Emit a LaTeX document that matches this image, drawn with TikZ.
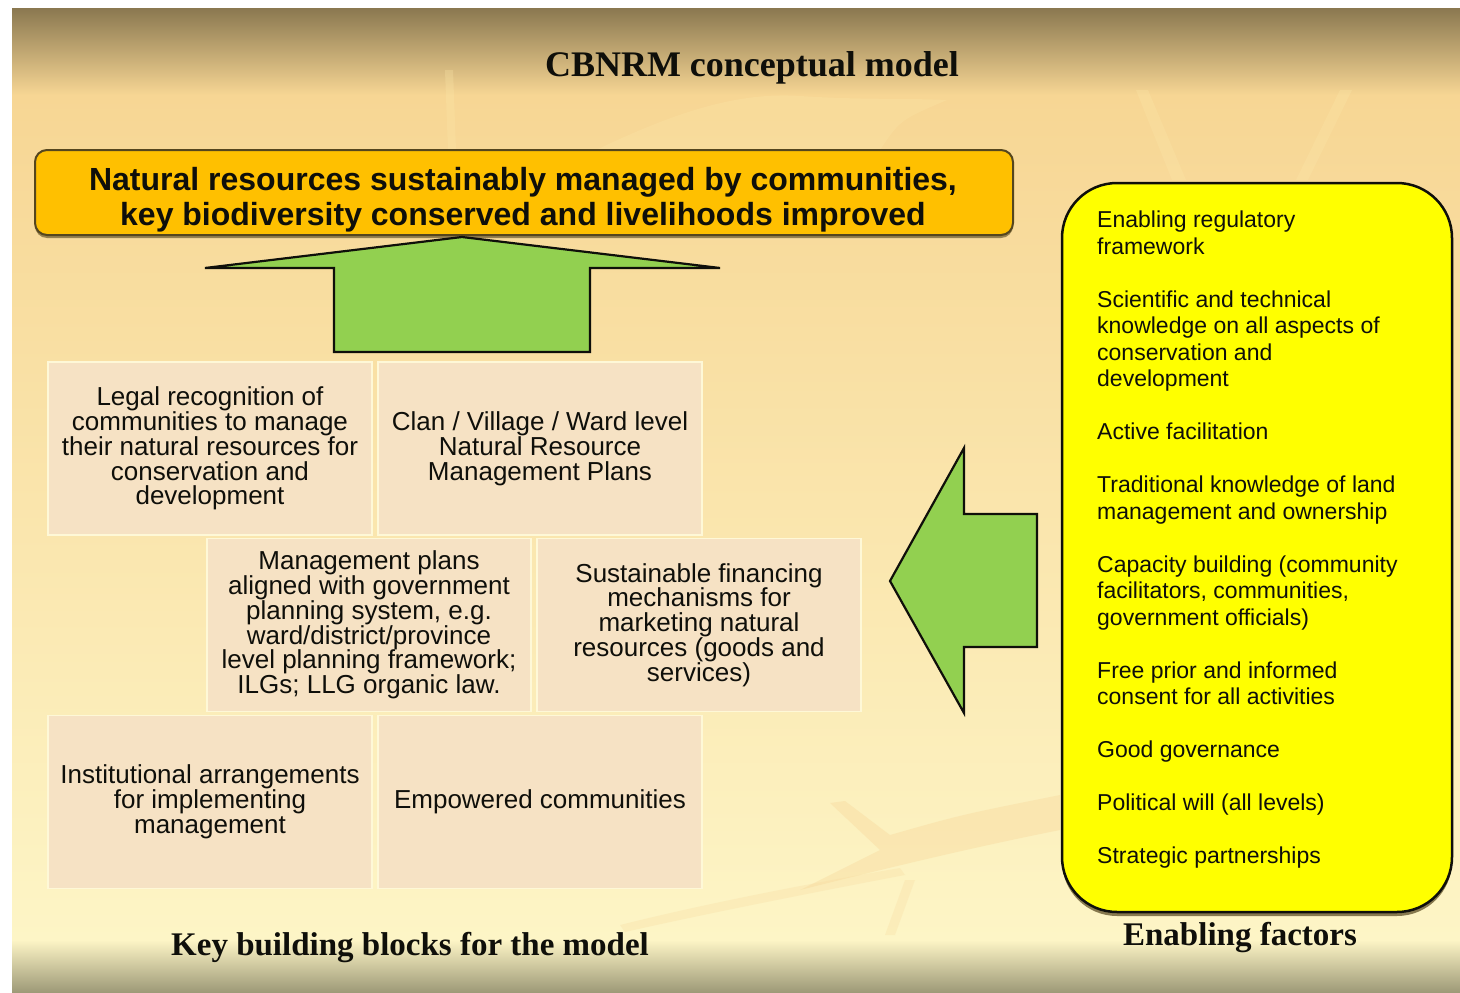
\documentclass[tikz,border=0pt]{standalone}
\usepackage{fontspec}
\setmainfont{Liberation Serif}
\setsansfont{Liberation Sans}
\usetikzlibrary{shadows}
\definecolor{umber}{RGB}{138,120,80}
\definecolor{wheat}{RGB}{247,214,148}
\definecolor{cream}{RGB}{253,245,198}
\definecolor{sage}{RGB}{156,152,118}
\definecolor{peach}{RGB}{246,226,196}
\definecolor{gold}{RGB}{255,192,0}
\definecolor{lime}{RGB}{146,208,80}
\definecolor{lemon}{RGB}{255,255,0}
\definecolor{bark}{RGB}{85,70,30}
\definecolor{ink}{RGB}{15,15,10}
\definecolor{straw}{RGB}{252,232,170}
\definecolor{apricot}{RGB}{245,205,140}
\tikzset{
  heading/.style={font=\fontsize{#1}{#1}\selectfont\bfseries,text=ink,inner sep=0pt},
  block/.style={fill=peach,draw=cream!70!white,line width=1.2pt,minimum width=324pt,
    minimum height=173pt,inner sep=2pt,align=center,text=ink,
    font=\sffamily\fontsize{26}{24.8}\selectfont},
  goal/.style={fill=gold,draw=bark,line width=2pt,rounded corners=12pt,
    minimum width=978pt,minimum height=85pt,
    drop shadow={shadow xshift=0pt,shadow yshift=-3pt,opacity=0.6,fill=bark}},
  goal text/.style={align=center,text=ink,inner sep=0pt,
    font=\sffamily\bfseries\fontsize{32}{35}\selectfont},
  factors/.style={fill=lemon,draw=ink,line width=2.5pt,rounded corners=55pt,
    minimum width=390pt,minimum height=729pt,
    drop shadow={shadow xshift=0pt,shadow yshift=-4pt,opacity=0.7,fill=bark}},
  factor list/.style={align=left,text=ink,inner sep=0pt,anchor=north west,
    font=\sffamily\fontsize{23}{26.5}\selectfont},
  fat arrow/.style={fill=lime,draw=ink,line width=2.2pt,line join=miter},
  leaf/.style={fill=#1,opacity=0.28},
}

\begin{document}
\begin{tikzpicture}[x=1pt,y=-1pt]
  \useasboundingbox (0,0) rectangle (1460,993);
  % slide background
  \fill[white] (0,0) rectangle (1460,993);
  \shade[top color=umber,bottom color=wheat] (12,8) rectangle (1460,95);
  \shade[top color=wheat,bottom color=cream] (12,95) rectangle (1460,940);
  \shade[top color=cream,bottom color=sage] (12,940) rectangle (1460,993);
  % faint leaf texture
  \fill[leaf=straw] (596,150) .. controls (680,110) and (740,92) .. (800,96)
    .. controls (860,100) and (900,98) .. (947,100) .. controls (900,120) .. (880,150) -- cycle;
  \fill[leaf=straw] (1136,90) -- (1148,90) -- (1186,180) -- (1172,180) -- cycle;
  \fill[leaf=straw] (1340,90) -- (1352,90) -- (1308,180) -- (1296,180) -- cycle;
  \fill[leaf=straw] (445,70) -- (453,70) -- (456,150) -- (448,150) -- cycle;
  \fill[leaf=apricot] (830,803) -- (845,801) -- (890,835) .. controls (960,815) .. (1060,795)
    -- (1060,830) .. controls (960,850) and (880,870) .. (800,890) -- (880,850) -- cycle;
  \fill[leaf=apricot!70!cream] (620,925) .. controls (700,905) and (800,885) .. (900,868)
    -- (905,875) .. controls (800,895) and (700,915) .. (625,932) -- cycle;
  \fill[leaf=apricot!70!cream] (905,880) -- (915,880) -- (895,935) -- (885,935) -- cycle;

  \node[heading=36] (title) at (752,68) {CBNRM conceptual model};

  % outcome banner and arrow up from the blocks
  \node[goal] (goal) at (524,192.5) {};
  \node[goal text] (goaltext) at (523,200) {Natural resources sustainably managed by communities,\\
    key biodiversity conserved and livelihoods improved};
  \draw[fat arrow] (205,268) -- (462,237) -- (720,268) -- (590,268)
    -- (590,352) -- (334,352) -- (334,268) -- cycle;

  % building blocks
  \foreach \n/\x/\y/\t in {
      legal/210/448.5/{Legal recognition of\\communities to manage\\their natural resources for\\conservation and\\development},
      clan/540/448.5/{Clan / Village / Ward level\\Natural Resource\\Management Plans},
      plans/369/625/{Management plans\\aligned with government\\planning system, e.g.\\ward/district/province\\level planning framework;\\ILGs; LLG organic law.},
      finance/699/625/{Sustainable financing\\mechanisms for\\marketing natural\\resources (goods and\\services)},
      inst/210/802/{Institutional arrangements\\for implementing\\management},
      empower/540/802/{Empowered communities}}
    \node[block] (\n) at (\x,\y) {\t};

  \node[heading=33] (blockcap) at (410,948) {Key building blocks for the model};

  % enabling factors
  \node[factors] (factors) at (1257,547.5) {};
  \node[factor list] (factorlist) at (1097,211) {Enabling regulatory\\framework\\[26.5pt]
    Scientific and technical\\knowledge on all aspects of\\conservation and\\development\\[26.5pt]
    Active facilitation\\[26.5pt]
    Traditional knowledge of land\\management and ownership\\[26.5pt]
    Capacity building (community\\facilitators, communities,\\government officials)\\[26.5pt]
    Free prior and informed\\consent for all activities\\[26.5pt]
    Good governance\\[26.5pt]
    Political will (all levels)\\[26.5pt]
    Strategic partnerships};
  \node[heading=33] (factorcap) at (1240,938) {Enabling factors};

  \draw[fat arrow] (890,581) -- (964,448) -- (964,514) -- (1037,514)
    -- (1037,647) -- (964,647) -- (964,713) -- cycle;
\end{tikzpicture}
\end{document}
